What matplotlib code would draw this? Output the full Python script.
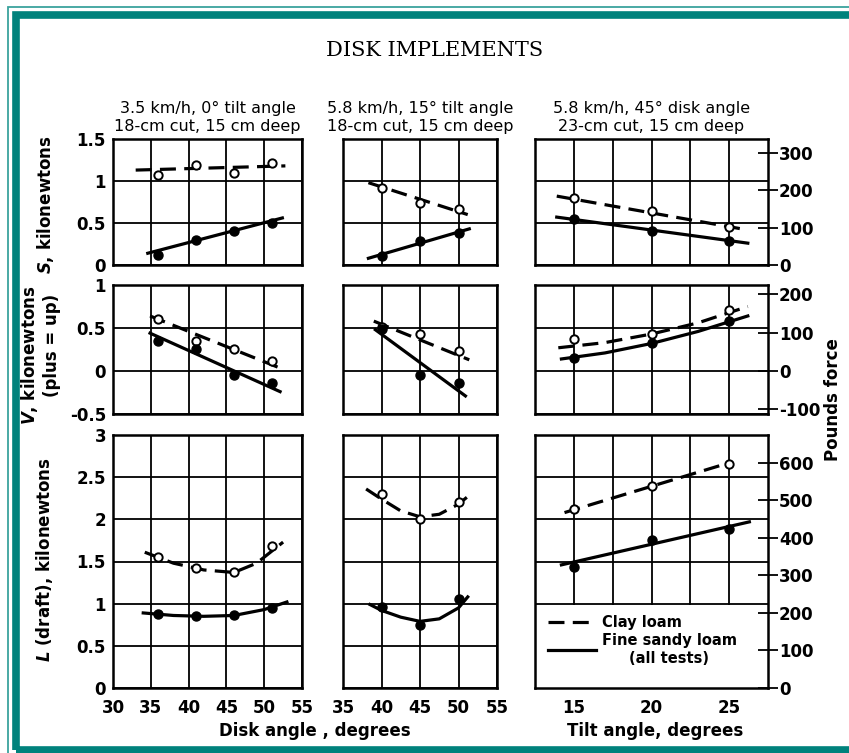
import matplotlib
matplotlib.use("Agg")
import matplotlib.pyplot as plt
from matplotlib.patches import Rectangle
from matplotlib.lines import Line2D

plt.rcParams['font.family'] = ['DejaVu Sans']
plt.rcParams['font.weight'] = 'bold'
plt.rcParams['mathtext.fontset'] = 'dejavusans'

W, H = 849, 753
KN_PER_LBF = 0.0044482

# ---- data (kilonewtons) ----
# column 1: 3.5 km/h, 0 deg tilt angle, vs disk angle
c1_angle = [36, 41, 46, 51]
c1_S_clay = [1.07, 1.19, 1.10, 1.21]
c1_S_sandy = [0.12, 0.30, 0.40, 0.50]
c1_V_clay = [0.60, 0.35, 0.26, 0.12]
c1_V_sandy = [0.35, 0.26, -0.05, -0.14]
c1_L_clay = [1.55, 1.42, 1.37, 1.68]
c1_L_sandy = [0.88, 0.85, 0.86, 0.95]

c1_S_clay_fit = ([33.0, 52.8], [1.13, 1.18])
c1_S_sandy_fit = ([34.6, 52.4], [0.14, 0.56])
c1_V_clay_fit = ([34.9, 52.5], [0.64, 0.02])
c1_V_sandy_fit = ([34.9, 52.1], [0.44, -0.24])
c1_L_clay_fit = ([34.2, 38, 42, 46, 49, 52.5], [1.61, 1.48, 1.40, 1.37, 1.48, 1.73])
c1_L_sandy_fit = ([34.0, 38, 42, 46, 50, 53], [0.89, 0.86, 0.85, 0.86, 0.93, 1.02])

# column 2: 5.8 km/h, 15 deg tilt angle, vs disk angle
c2_angle = [40, 45, 50]
c2_S_clay = [0.92, 0.74, 0.67]
c2_S_sandy = [0.11, 0.29, 0.38]
c2_V_clay = [0.51, 0.43, 0.23]
c2_V_sandy = [0.49, -0.05, -0.14]
c2_L_clay = [2.30, 2.00, 2.21]
c2_L_sandy = [0.96, 0.75, 1.05]

c2_S_clay_fit = ([38.3, 51.2], [0.98, 0.60])
c2_S_sandy_fit = ([38.3, 51.4], [0.08, 0.43])
c2_V_clay_fit = ([39.0, 51.4], [0.58, 0.13])
c2_V_sandy_fit = ([39.2, 50.9], [0.48, -0.29])
c2_L_clay_fit = ([38.0, 40, 42.5, 45, 47.5, 50, 51.2], [2.36, 2.24, 2.10, 2.03, 2.06, 2.18, 2.27])
c2_L_sandy_fit = ([38.5, 40, 42.5, 45, 47.5, 50, 51.2], [0.99, 0.92, 0.84, 0.79, 0.82, 0.95, 1.08])

# column 3: 5.8 km/h, 45 deg disk angle, vs tilt angle
c3_tilt = [15, 20, 25]
c3_S_clay = [0.80, 0.64, 0.45]
c3_S_sandy = [0.55, 0.40, 0.29]
c3_V_clay = [0.37, 0.43, 0.71]
c3_V_sandy = [0.15, 0.32, 0.58]
c3_L_clay = [2.12, 2.40, 2.66]
c3_L_sandy = [1.44, 1.75, 1.89]

c3_S_clay_fit = ([13.9, 26.1], [0.82, 0.42])
c3_S_sandy_fit = ([13.9, 26.2], [0.57, 0.26])
c3_V_clay_fit = ([14.0, 17, 20, 23, 26.2], [0.27, 0.33, 0.43, 0.56, 0.75])
c3_V_sandy_fit = ([14.2, 17, 20, 23, 26.2], [0.14, 0.21, 0.32, 0.46, 0.64])
c3_L_clay_fit = ([14.4, 25.0], [2.08, 2.67])
c3_L_sandy_fit = ([14.2, 26.3], [1.46, 1.97])

col_titles = ["3.5 km/h, 0\u00b0 tilt angle\n18-cm cut, 15 cm deep",
              "5.8 km/h, 15\u00b0 tilt angle\n18-cm cut, 15 cm deep",
              "5.8 km/h, 45\u00b0 disk angle\n23-cm cut, 15 cm deep"]

row_ylims = [(0, 1.5), (-0.5, 1.0), (0, 3.0)]
row_yticks = [[0, 0.5, 1, 1.5], [-0.5, 0, 0.5, 1], [0, 0.5, 1, 1.5, 2, 2.5, 3]]
row_ylabels = [["0", "0.5", "1", "1.5"], ["-0.5", "0", "0.5", "1"],
               ["0", "0.5", "1", "1.5", "2", "2.5", "3"]]
row_lbf_ticks = [[0, 100, 200, 300], [-100, 0, 100, 200], [0, 100, 200, 300, 400, 500, 600]]

col_xlims = [(30, 55), (35, 55), (12.5, 27.5)]
col_grid = [[30, 35, 40, 45, 50, 55], [35, 40, 45, 50, 55], [15, 17.5, 20, 22.5, 25]]
col_xtick_labels = [([30, 35, 40, 45, 50, 55], ["30", "35", "40", "45", "50", "55"]),
                    ([35, 40, 45, 50, 55], ["35", "40", "45", "50", "55"]),
                    ([15, 20, 25], ["15", "20", "25"])]

# pixel boxes of the panels
col_px = [(113, 302), (343, 497), (535, 768)]
row_px = [(139, 265), (285, 414), (435, 688)]

panels = [
    [(c1_angle, c1_S_clay, c1_S_sandy, c1_S_clay_fit, c1_S_sandy_fit),
     (c2_angle, c2_S_clay, c2_S_sandy, c2_S_clay_fit, c2_S_sandy_fit),
     (c3_tilt, c3_S_clay, c3_S_sandy, c3_S_clay_fit, c3_S_sandy_fit)],
    [(c1_angle, c1_V_clay, c1_V_sandy, c1_V_clay_fit, c1_V_sandy_fit),
     (c2_angle, c2_V_clay, c2_V_sandy, c2_V_clay_fit, c2_V_sandy_fit),
     (c3_tilt, c3_V_clay, c3_V_sandy, c3_V_clay_fit, c3_V_sandy_fit)],
    [(c1_angle, c1_L_clay, c1_L_sandy, c1_L_clay_fit, c1_L_sandy_fit),
     (c2_angle, c2_L_clay, c2_L_sandy, c2_L_clay_fit, c2_L_sandy_fit),
     (c3_tilt, c3_L_clay, c3_L_sandy, c3_L_clay_fit, c3_L_sandy_fit)],
]

DASH = (0, (5, 2.6))
TEAL = '#00827c'

fig = plt.figure(figsize=(W / 100, H / 100), dpi=100)

# teal page frame (cut off at the right edge)
fig.patches.append(Rectangle((8 / W, -0.1), 2, 1.1 - 7 / H, transform=fig.transFigure,
                             fill=False, edgecolor='#3aa39d', lw=1.3))
fig.patches.append(Rectangle((15.5 / W, 3 / H), 2, 1 - 14.5 / H - 3 / H,
                             transform=fig.transFigure, fill=False, edgecolor=TEAL, lw=5.5))

for r in range(3):
    for c in range(3):
        l, rr = col_px[c]
        t, b = row_px[r]
        ax = fig.add_axes([l / W, 1 - b / H, (rr - l) / W, (b - t) / H])
        x, clay, sandy, clay_fit, sandy_fit = panels[r][c]

        ax.set_xlim(*col_xlims[c])
        ax.set_ylim(*row_ylims[r])
        ax.set_axisbelow(True)
        ax.set_xticks(col_grid[c])
        ax.set_yticks(row_yticks[r])
        ax.grid(True, color='black', lw=1.3)
        for sp in ax.spines.values():
            sp.set_linewidth(1.8)

        if c == 0:
            ax.set_yticklabels(row_ylabels[r])
        else:
            ax.set_yticklabels([])
        ax.set_xticklabels([])
        ax.tick_params(length=0, labelsize=12, pad=5)

        if r == 2:
            ax2x = ax.secondary_xaxis('bottom')
            ax2x.set_xticks(col_xtick_labels[c][0])
            ax2x.set_xticklabels(col_xtick_labels[c][1])
            ax2x.tick_params(length=0, labelsize=12, pad=8)
            ax2x.spines['bottom'].set_visible(False)

        if r == 2 and c == 2:
            ax.add_patch(Rectangle((12.5, 0), 15, 0.985, facecolor='white',
                                   edgecolor='none', zorder=1))

        ax.plot(clay_fit[0], clay_fit[1], color='black', lw=2.3, ls=DASH, zorder=3)
        ax.plot(sandy_fit[0], sandy_fit[1], color='black', lw=2.3, zorder=3)
        ax.plot(x, clay, 'o', mfc='white', mec='black', mew=1.4, ms=6, zorder=4)
        ax.plot(x, sandy, 'o', color='black', ms=6.5, zorder=4)

        if c == 2:
            axr = ax.twinx()
            lo, hi = row_ylims[r]
            axr.set_ylim(lo / KN_PER_LBF, hi / KN_PER_LBF)
            axr.set_yticks(row_lbf_ticks[r])
            axr.set_yticklabels([str(v) for v in row_lbf_ticks[r]])
            axr.tick_params(direction='inout', length=14, width=1.3, labelsize=12, pad=1)
            for sp in axr.spines.values():
                sp.set_visible(False)

        if r == 0:
            ax.set_title(col_titles[c], fontsize=11.5, linespacing=1.25, pad=6)

        if r == 2 and c == 2:
            handles = [Line2D([], [], color='black', lw=2.3, ls=DASH),
                       Line2D([], [], color='black', lw=2.3)]
            leg = ax.legend(handles, ['Clay loam', 'Fine sandy loam\n(all tests)'],
                            loc='upper left', bbox_to_anchor=(0.03, 0.31), frameon=False,
                            fontsize=10.5, handlelength=3.3, handletextpad=0.4,
                            labelspacing=0.2, borderaxespad=0)
            for txt in leg.get_texts():
                txt.set_multialignment('center')

# titles and axis labels
fig.text(435 / W, 1 - 50 / H, "DISK IMPLEMENTS", ha='center', va='center',
         fontsize=15, family='DejaVu Serif', fontweight='normal')
fig.text(45 / W, 1 - 205 / H, r"$\it{S}$, kilonewtons", rotation=90,
         ha='center', va='center', fontsize=12)
fig.text(30 / W, 1 - 355 / H, r"$\it{V}$, kilonewtons", rotation=90,
         ha='center', va='center', fontsize=12)
fig.text(52 / W, 1 - 345 / H, "(plus = up)", rotation=90,
         ha='center', va='center', fontsize=12)
fig.text(45 / W, 1 - 560 / H, r"$\it{L}$ (draft), kilonewtons", rotation=90,
         ha='center', va='center', fontsize=12)
fig.text(833 / W, 1 - 400 / H, "Pounds force", rotation=90,
         ha='center', va='center', fontsize=12)
fig.text(315 / W, 1 - 731 / H, "Disk angle , degrees", ha='center', va='center', fontsize=12)
fig.text(655 / W, 1 - 731 / H, "Tilt angle, degrees", ha='center', va='center', fontsize=12)

fig.savefig("out.png", dpi=100)
